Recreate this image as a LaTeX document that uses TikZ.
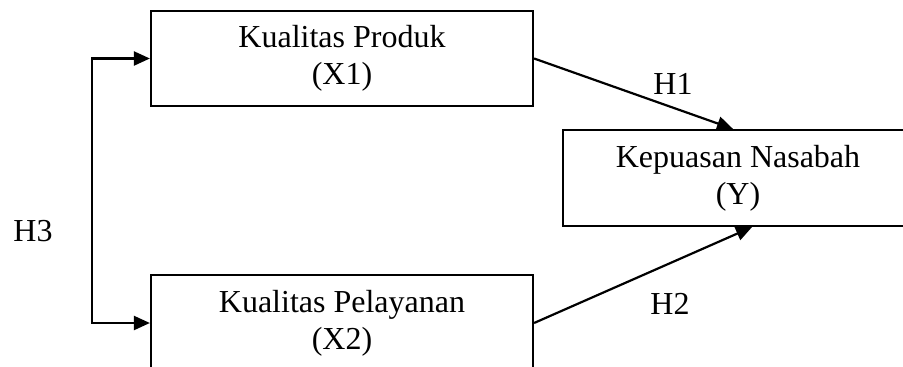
\documentclass[tikz,border=0pt]{standalone}
\usepackage{fontspec}
\setmainfont{Liberation Serif}
\usetikzlibrary{arrows.meta,calc}
\begin{document}
\begin{tikzpicture}[x=1pt,y=-1pt,
  box/.style={draw,line width=2.2pt,align=center,inner sep=0pt,
    font=\fontsize{32}{37}\selectfont},
  lbl/.style={font=\fontsize{32}{37}\selectfont,inner sep=0pt},
  arr/.style={line width=2.2pt,-{Triangle[length=16pt,width=14pt]}},
  darr/.style={line width=2.2pt,{Triangle[length=16pt,width=14pt]}-{Triangle[length=16pt,width=14pt]}}]
\useasboundingbox (0,0) rectangle (903,367);
\node[box,minimum width=382pt,minimum height=95pt] (x1) at (342,58.5) {Kualitas Produk\\(X1)};
\node[box,minimum width=350pt,minimum height=96pt] (y) at (738,178) {Kepuasan Nasabah\\(Y)};
\node[box,minimum width=382pt,minimum height=96pt] (x2) at (342,323) {Kualitas Pelayanan\\(X2)};
\draw[darr] (x1.west) -- ++(-58,0) coordinate (c1) |- (x2.west);
\draw[arr] (x1.east) -- ($(y.north)+(-5,0)$);
\draw[arr] (x2.east) -- ($(y.south)+(14,0)$);
\node[lbl] (h1) at (673,84) {H1};
\node[lbl] (h2) at (670,304) {H2};
\node[lbl] (h3) at (33,231) {H3};
\end{tikzpicture}
\end{document}
